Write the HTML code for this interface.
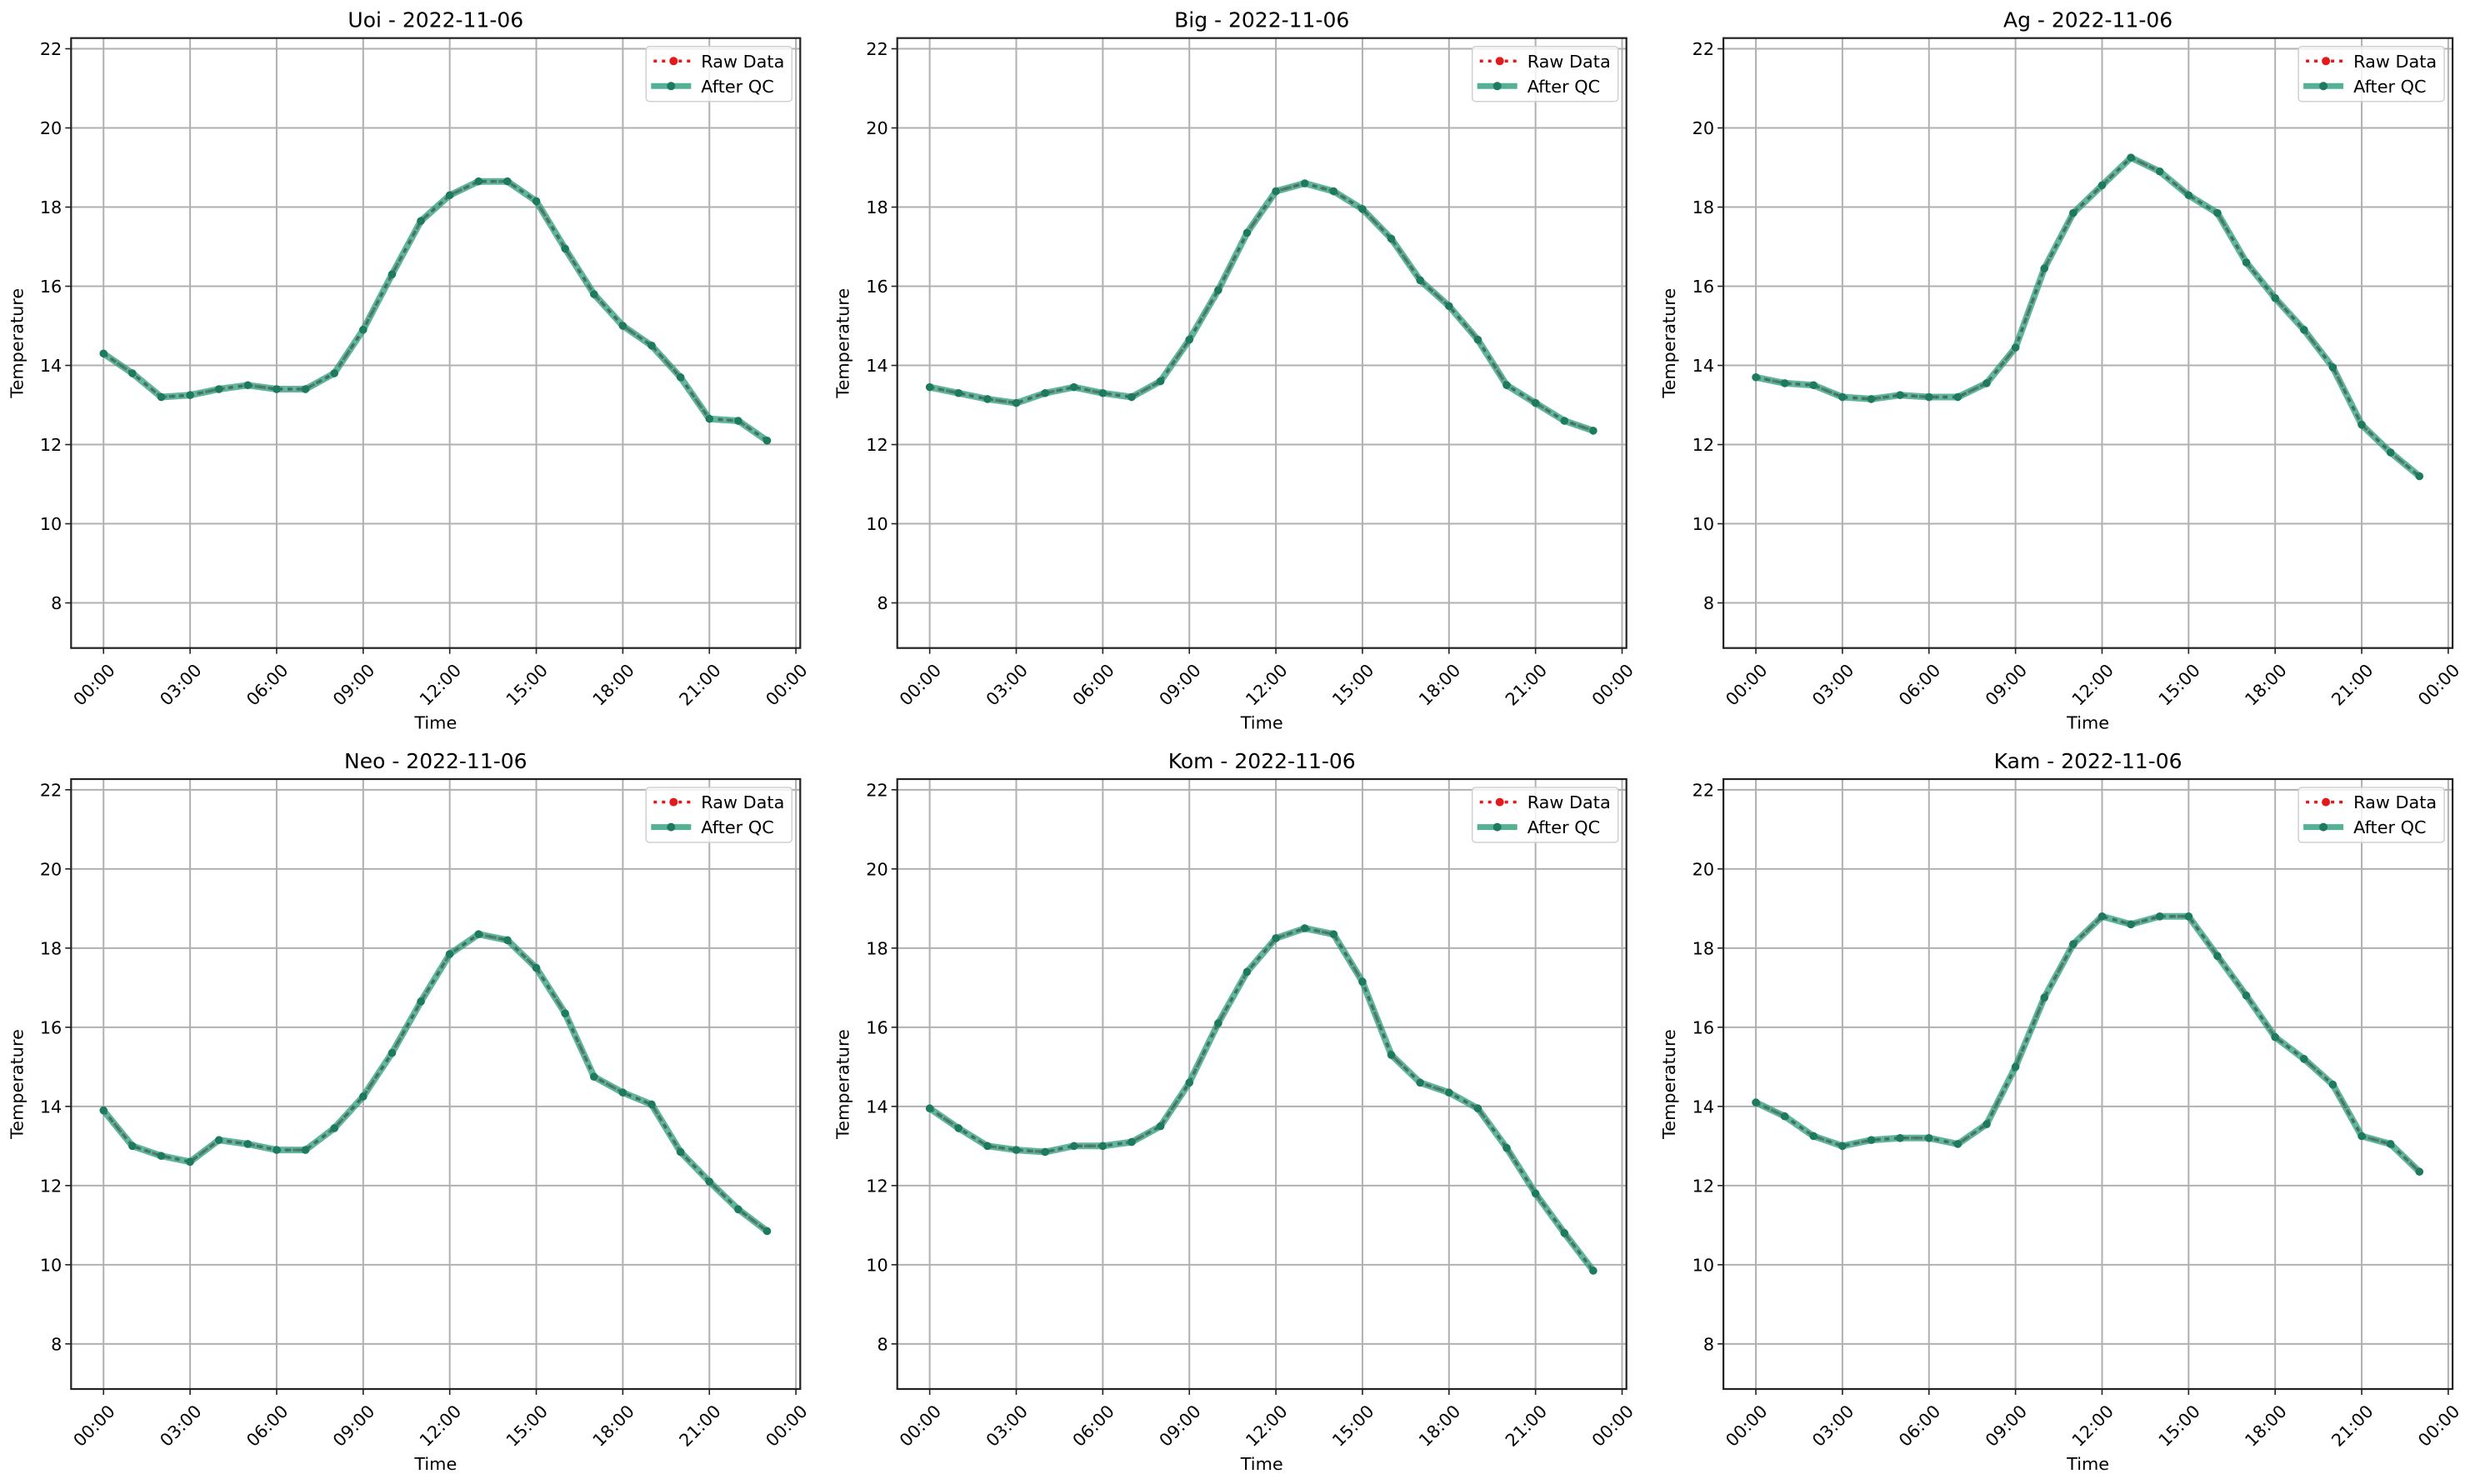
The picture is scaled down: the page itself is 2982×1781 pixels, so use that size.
<!DOCTYPE html>
<html><head><meta charset="utf-8"><style>
html,body{margin:0;padding:0;background:#fff;}
svg{display:block;font-family:"DejaVu Sans","Liberation Sans",sans-serif;}
</style></head><body>
<svg id="fig" width="2982" height="1781" viewBox="0 0 2982 1781" xmlns="http://www.w3.org/2000/svg"></svg>
<script>
const stations = ["Uoi","Big","Ag","Neo","Kom","Kam"];
const dateLabel = "2022-11-06";
const hours = [0,1,2,3,4,5,6,7,8,9,10,11,12,13,14,15,16,17,18,19,20,21,22,23];
const uoiValues = [14.3,13.8,13.2,13.25,13.4,13.5,13.4,13.4,13.8,14.9,16.3,17.65,18.3,18.65,18.65,18.15,16.95,15.8,15.0,14.5,13.7,12.65,12.6,12.1];
const bigValues = [13.45,13.3,13.15,13.05,13.3,13.45,13.3,13.2,13.6,14.65,15.9,17.35,18.4,18.6,18.4,17.95,17.2,16.15,15.5,14.65,13.5,13.05,12.6,12.35];
const agValues = [13.7,13.55,13.5,13.2,13.15,13.25,13.2,13.2,13.55,14.45,16.45,17.85,18.55,19.25,18.9,18.3,17.85,16.6,15.7,14.9,13.95,12.5,11.8,11.2];
const neoValues = [13.9,13.0,12.75,12.6,13.15,13.05,12.9,12.9,13.45,14.25,15.35,16.65,17.85,18.35,18.2,17.5,16.35,14.75,14.35,14.05,12.85,12.1,11.4,10.85];
const komValues = [13.95,13.45,13.0,12.9,12.85,13.0,13.0,13.1,13.5,14.6,16.1,17.4,18.25,18.5,18.35,17.15,15.3,14.6,14.35,13.95,12.95,11.8,10.8,9.85];
const kamValues = [14.1,13.75,13.25,13.0,13.15,13.2,13.2,13.05,13.55,15.0,16.75,18.1,18.8,18.6,18.8,18.8,17.8,16.8,15.75,15.2,14.55,13.25,13.05,12.35];
const seriesValues = [uoiValues,bigValues,agValues,neoValues,komValues,kamValues];
const yTicks = [8,10,12,14,16,18,20,22];
const xTickHours = [0,3,6,9,12,15,18,21,24];
const xTickLabels = ["00:00","03:00","06:00","09:00","12:00","15:00","18:00","21:00","00:00"];

const NS="http://www.w3.org/2000/svg";
const svg=document.getElementById('fig');
function mk(tag,attrs,parent){const e=document.createElementNS(NS,tag);for(const k in attrs)e.setAttribute(k,attrs[k]);(parent||svg).appendChild(e);return e;}

const AX_W=875, AX_H=732, X0=85.3, Y0=45.7, DX=991.4, DY=889.3;
const xMin=-1.125, xMax=24.15, yMin=6.86, yMax=22.27;
const FS=20.8, TFS=25;

for(let i=0;i<6;i++){
  const col=i%3,row=Math.floor(i/3);
  const L=X0+col*DX,T=Y0+row*DY;
  const sx=h=>L+(h-xMin)/(xMax-xMin)*AX_W;
  const sy=v=>T+AX_H-(v-yMin)/(yMax-yMin)*AX_H;
  const g=mk('g',{});
  
  
  yTicks.forEach(v=>{const y=sy(v);
    const gl=mk('line',{x1:L,x2:L+AX_W,y1:y,y2:y,stroke:'#b0b0b0','stroke-width':2},g);
    
    mk('line',{x1:L-7,x2:L,y1:y,y2:y,stroke:'#222','stroke-width':1.6},g);
    const t=mk('text',{x:L-11,y:y+7.5,'text-anchor':'end','font-size':FS,fill:'#000'},g);
    t.textContent=v;
  });
  xTickHours.forEach((h,k)=>{const x=sx(h);
    const gl=mk('line',{x1:x,x2:x,y1:T,y2:T+AX_H,stroke:'#b0b0b0','stroke-width':2},g);
    
    mk('line',{x1:x,x2:x,y1:T+AX_H,y2:T+AX_H+7,stroke:'#222','stroke-width':1.6},g);
    const ax=x+15, ay=T+AX_H+28;
    const t=mk('text',{x:ax,y:ay,'text-anchor':'end','font-size':FS,fill:'#000',transform:`rotate(-45 ${ax} ${ay})`},g);
    t.textContent=xTickLabels[k];
  });
  const vals=seriesValues[i];
  const pts=hours.map((h,k)=>sx(h).toFixed(1)+','+sy(vals[k]).toFixed(1)).join(' ');
  const raw=mk('polyline',{points:pts,fill:'none',stroke:'#e31a1c','stroke-width':3.5,'stroke-dasharray':'4 6'},g);
  
  const qc=mk('polyline',{points:pts,fill:'none',stroke:'#2a9d7c','stroke-width':8,'stroke-opacity':0.75,'stroke-linejoin':'round'},g);
  
  const dash=mk('polyline',{points:pts,fill:'none',stroke:'#3e6a5e','stroke-width':3.5,'stroke-dasharray':'6 6','stroke-opacity':0.8},g);
  
  hours.forEach((h,k)=>{
    const c=mk('circle',{cx:sx(h),cy:sy(vals[k]),r:4.8,fill:'#1d7a5e'},g);
    
  });
  const fr=mk('rect',{x:L,y:T,width:AX_W,height:AX_H,fill:'none',stroke:'#222','stroke-width':2.2},g);
  
  const tt=mk('text',{x:L+AX_W/2,y:T-13,'text-anchor':'middle','font-size':TFS,fill:'#000'},g);
  tt.textContent=stations[i]+' - '+dateLabel;
  const xl=mk('text',{x:L+AX_W/2,y:T+AX_H+97,'text-anchor':'middle','font-size':FS,fill:'#000'},g);
  xl.textContent='Time';
  const yx=L-58, yy=T+AX_H/2;
  const yl=mk('text',{x:yx,y:yy,'text-anchor':'middle','font-size':FS,fill:'#000',transform:`rotate(-90 ${yx} ${yy})`},g);
  yl.textContent='Temperature';
  const R=L+AX_W;
  const lg=mk('g',{},g);
  
  mk('rect',{x:R-185,y:T+10,width:175,height:66,rx:4,fill:'#fff','fill-opacity':0.8,stroke:'#d0d0d0','stroke-width':1.5},lg);
  const r1=T+27.6,r2=T+57.6;
  const le1=mk('g',{},lg);
  mk('line',{x1:R-176,x2:R-128,y1:r1,y2:r1,stroke:'#e31a1c','stroke-width':3.5,'stroke-dasharray':'4 6'},le1);
  mk('circle',{cx:R-152,cy:r1,r:5,fill:'#e31a1c'},le1);
  const lt1=mk('text',{x:R-119,y:r1+7.5,'font-size':FS,fill:'#000'},le1);lt1.textContent='Raw Data';
  const le2=mk('g',{},lg);
  mk('line',{x1:R-179,x2:R-131,y1:r2,y2:r2,stroke:'#2a9d7c','stroke-width':7,'stroke-opacity':0.8},le2);
  mk('circle',{cx:R-155,cy:r2,r:5,fill:'#1d7a5e'},le2);
  const lt2=mk('text',{x:R-119,y:r2+7.5,'font-size':FS,fill:'#000'},le2);lt2.textContent='After QC';
}
</script>
</body></html>
